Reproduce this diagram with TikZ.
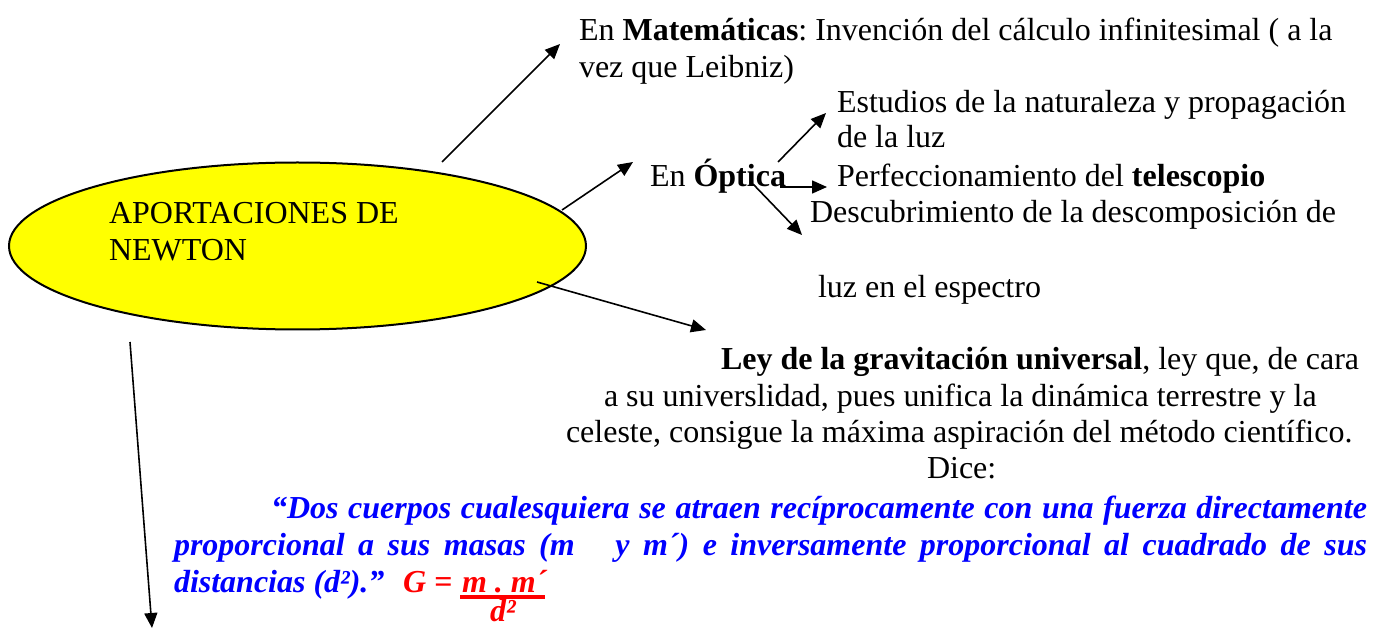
\documentclass[tikz,border=0pt]{standalone}
\usepackage{fontspec}
\setmainfont{Liberation Serif}
\newfontfamily\quotefont{Liberation Serif}
\usetikzlibrary{shapes.geometric,arrows.meta}
\definecolor{ellyellow}{RGB}{255,255,0}
\definecolor{qblue}{RGB}{0,0,255}
\definecolor{qred}{RGB}{255,0,0}
\frenchspacing
\tikzset{
  txt/.style={anchor=base west,inner sep=0pt,outer sep=0pt,font=\fontsize{32}{36}\selectfont},
  qtxt/.style={anchor=base west,inner sep=0pt,outer sep=0pt,text=qblue,font=\fontsize{32}{36}\selectfont\quotefont\bfseries\itshape},
  rtxt/.style={anchor=base west,inner sep=0pt,outer sep=0pt,text=qred,font=\fontsize{32}{36}\selectfont\quotefont\bfseries\itshape},
  conn/.style={line width=1.6pt,-{Triangle[length=15pt,width=13pt]}},
  bubble/.style={ellipse,draw,line width=2pt,fill=ellyellow,inner sep=0pt}
}
\begin{document}
\begin{tikzpicture}[x=1pt,y=-1pt]
\useasboundingbox (0,0) rectangle (1387,628);
% central ellipse
\node[bubble,minimum width=577pt,minimum height=167pt] (newton) at (297.5,246) {};
\node[txt] (t1) at (109,224) {APORTACIONES DE};
\node[txt] (t2) at (109,261) {NEWTON};
% Matematicas
\node[txt] (mat1) at (579,41) {En \textbf{Matemáticas}: Invención del cálculo infinitesimal ( a la};
\node[txt] (mat2) at (579,78) {vez que Leibniz)};
% Optica
\node[txt] (opt) at (650,187) {En \textbf{Óptica}};
\node[txt] (o1a) at (837,113) {Estudios de la naturaleza y propagación};
\node[txt] (o1b) at (837,148) {de la luz};
\node[txt] (o2) at (837,187) {Perfeccionamiento del \textbf{telescopio}};
\node[txt] (o3a) at (810,223) {Descubrimiento de la descomposición de};
\node[txt] (o3b) at (818,298) {luz en el espectro};
% Ley
\node[txt] (l1) at (721,370) {\textbf{Ley de la gravitación universal}, ley que, de cara};
\node[txt] (l2) at (604,406) {a su universlidad, pues unifica la dinámica terrestre y la};
\node[txt] (l3) at (566,442) {celeste, consigue la máxima aspiración del método científico.};
\node[txt] (l4) at (927,478) {Dice:};
% quote
\node[qtxt] (q1) at (271,518) {\makebox[1096pt][s]{“Dos cuerpos cualesquiera se atraen recíprocamente con una fuerza directamente}};
\node[qtxt] (q2) at (174,555) {\makebox[1193pt][s]{proporcional a sus masas (m \ \ y m´) e inversamente proporcional al cuadrado de sus}};
\node[qtxt] (q3) at (174,592) {distancias (d²).”};
\node[rtxt] (g) at (403,592) {G =};
\node[rtxt] (num) at (462,592) {m . m´};
\coordinate (ulA) at (460,597);
\coordinate (ulB) at (545,597);
\draw[qred,line width=3.5pt] (ulA) -- (ulB);
\node[rtxt] (den) at (490,621) {d²};
% connectors
\coordinate (a1s) at (442,162); \coordinate (a1e) at (560,44);
\coordinate (a2s) at (562,210); \coordinate (a2e) at (633,162);
\coordinate (a3s) at (778,162); \coordinate (a3e) at (826,113);
\coordinate (a4s) at (780,187); \coordinate (a4e) at (827,187);
\coordinate (a5s) at (753,184); \coordinate (a5e) at (802,235);
\coordinate (a6s) at (537,282); \coordinate (a6e) at (706,330);
\coordinate (a7s) at (130,342); \coordinate (a7e) at (152,628);
\draw[conn] (a1s) -- (a1e);
\draw[conn] (a2s) -- (a2e);
\draw[conn] (a3s) -- (a3e);
\draw[conn] (a4s) -- (a4e);
\draw[conn] (a5s) -- (a5e);
\draw[conn] (a6s) -- (a6e);
\draw[conn] (a7s) -- (a7e);
\end{tikzpicture}
\end{document}
